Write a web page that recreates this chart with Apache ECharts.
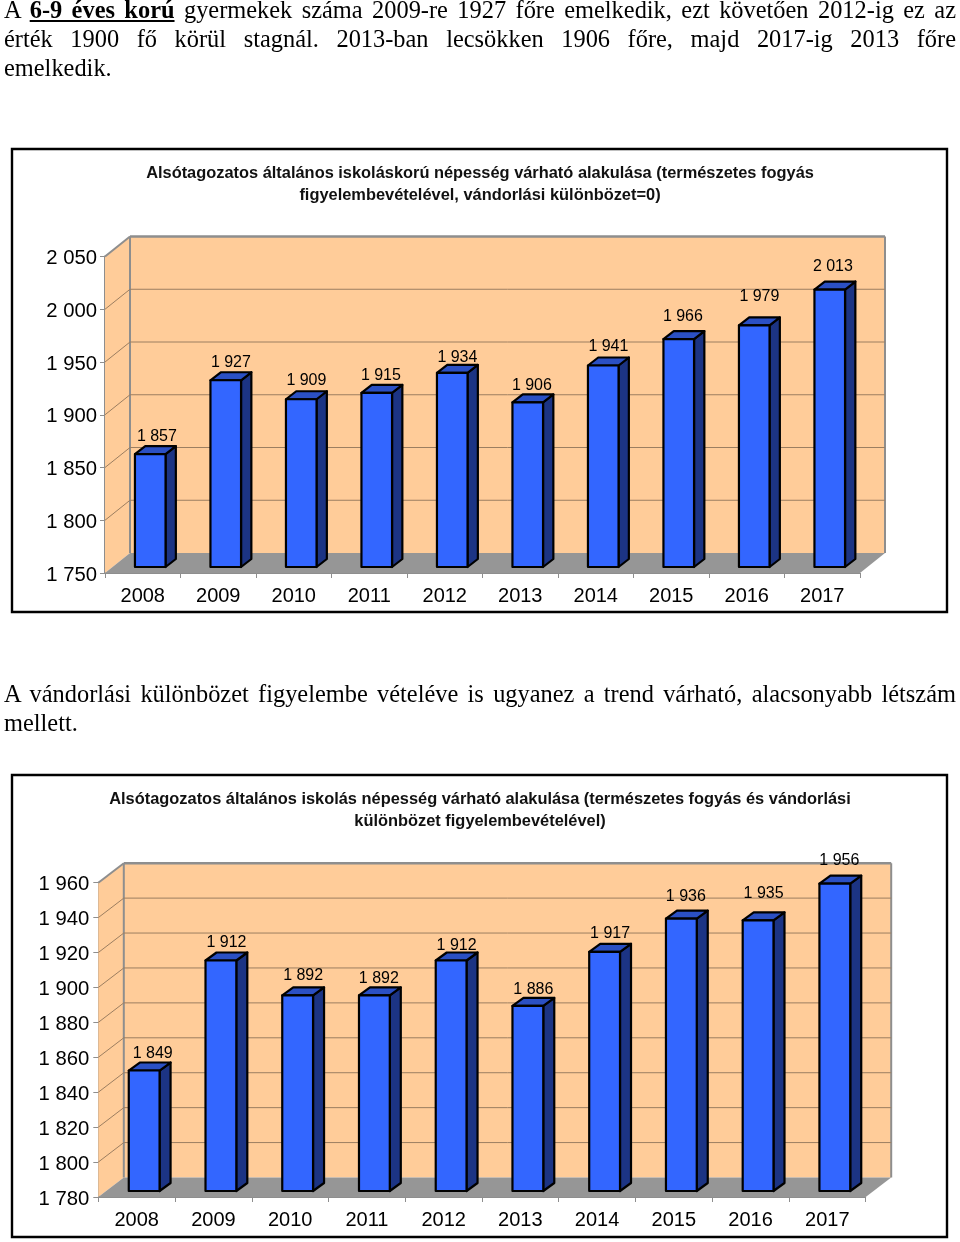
<!DOCTYPE html>
<html lang="hu">
<head>
<meta charset="utf-8">
<title>Népesség</title>
<script src="https://cdn.jsdelivr.net/npm/echarts@6/dist/echarts.min.js"></script>
<style>
html,body{margin:0;padding:0;background:#fff;width:960px;height:1242px;overflow:hidden}
#chart{position:absolute;left:0;top:0;width:960px;height:1242px}
.p{position:absolute;left:4px;width:952px;font:24.4px/29px "Liberation Serif",serif;color:#000;text-align:justify;text-align-last:justify;z-index:2}
</style>
</head>
<body>
<div id="chart"></div>
<div class="p" style="top:-5.5px">A <b><u>6-9 éves korú</u></b> gyermekek száma 2009-re 1927 főre emelkedik, ezt követően 2012-ig ez az<br>érték 1900 fő körül stagnál. 2013-ban lecsökken 1906 főre, majd 2017-ig 2013 főre<br>emelkedik.</div>
<div class="p" style="top:678.5px">A vándorlási különbözet figyelembe vételéve is ugyanez a trend várható, alacsonyabb létszám<br>mellett.</div>
<script>
var years = ['2008','2009','2010','2011','2012','2013','2014','2015','2016','2017'];
var values1 = [1857,1927,1909,1915,1934,1906,1941,1966,1979,2013];
var values2 = [1849,1912,1892,1892,1912,1886,1917,1936,1935,1956];
var ticks1 = [1750,1800,1850,1900,1950,2000,2050];
var ticks2 = [1780,1800,1820,1840,1860,1880,1900,1920,1940,1960];
var title1 = 'Alsótagozatos általános iskoláskorú népesség várható alakulása (természetes fogyás\nfigyelembevételével, vándorlási különbözet=0)';
var title2 = 'Alsótagozatos általános iskolás népesség várható alakulása (természetes fogyás és vándorlási\nkülönbözet figyelembevételével)';

// layout only: label placement relative to each bar's rear top edge
var labelRise1 = [10,10,11,9,7,9,11,15,21,15];
var labelRise2 = [9,10,12,9,7,8,10,14,19,15];
var labelShift1 = [1.5,0,0,-1,0,-1,0,-1,0,-2];
var labelShift2 = [3,0,0,-1,0,0,0,-1,0,-1];

var FONT = '"Liberation Sans",Arial,sans-serif';
function fmt(v){ var s=String(v); return s.slice(0,-3)+' '+s.slice(-3); }
var WALL='#FFCC99', FLOOR='#969696', EDGE='#8E8E8E', GRIDLINE='#9C7E60';

function wallSeries(idx, ticks, geo){
  var min=ticks[0];
  return [{
    type:'custom', coordinateSystem:'cartesian2d', xAxisIndex:idx, yAxisIndex:idx, silent:true, z:1,
    data:[[0,min]],
    renderItem:function(p,api){
      var cs=p.coordSys, L=cs.x, R=cs.x+cs.width, T=cs.y, B=cs.y+cs.height, dx=geo.dx, dy=geo.dy;
      function poly(pts,fill){return {type:'polygon',shape:{points:pts},style:{fill:fill,stroke:null}};}
      function line(a,b,w){return {type:'line',shape:{x1:a[0],y1:a[1],x2:b[0],y2:b[1]},style:{stroke:EDGE,lineWidth:w}};}
      return {type:'group',children:[
        poly([[L,B],[L+dx,B+dy],[L+dx,T+dy],[L,T]],WALL),
        poly([[L+dx,B+dy],[R+dx,B+dy],[R+dx,T+dy],[L+dx,T+dy]],WALL),
        poly([[L,B],[L+dx,B+dy],[R+dx,B+dy],[R,B]],FLOOR),
        line([L+dx,T+dy],[R+dx,T+dy],2.4),
        line([L+dx,T+dy],[L+dx,B+dy],2),
        line([R+dx,T+dy],[R+dx,B+dy],2),
        line([L,T],[L+dx,T+dy],2)
      ]};
    }
  },{
    type:'custom', coordinateSystem:'cartesian2d', xAxisIndex:idx, yAxisIndex:idx, silent:true, z:2,
    data:ticks.slice(1,-1).map(function(t){return [0,t];}),
    renderItem:function(p,api){
      var cs=p.coordSys, y=api.coord([0,api.value(1)])[1], L=cs.x, R=cs.x+cs.width;
      var st={stroke:GRIDLINE,lineWidth:1};
      return {type:'group',children:[
        {type:'line',shape:{x1:L,y1:y,x2:L+geo.dx,y2:y+geo.dy},style:st},
        {type:'line',shape:{x1:L+geo.dx,y1:y+geo.dy,x2:R+geo.dx,y2:y+geo.dy},style:st}
      ]};
    }
  }];
}

function barSeries(idx, values, min, rise, shift, geo){
  return {
    type:'custom', coordinateSystem:'cartesian2d', xAxisIndex:idx, yAxisIndex:idx, silent:true, z:3,
    data:values.map(function(v,i){return [i,v];}),
    renderItem:function(p,api){
      var i=api.value(0), v=api.value(1);
      var top=api.coord([i,v]), base=api.coord([i,min]);
      var x0=top[0]+geo.insetX-geo.barW/2, x1=x0+geo.barW;
      var y0=top[1]+geo.insetY, y1=base[1]+geo.insetY;
      var ddx=geo.barDx, ddy=geo.barDy;
      var st=function(f){return {fill:f,stroke:'#000',lineWidth:2.2,lineJoin:'round'};};
      return {type:'group',children:[
        {type:'polygon',shape:{points:[[x1,y0],[x1+ddx,y0+ddy],[x1+ddx,y1+ddy],[x1,y1]]},style:st('#1C3484')},
        {type:'polygon',shape:{points:[[x0,y0],[x0+ddx,y0+ddy],[x1+ddx,y0+ddy],[x1,y0]]},style:st('#2B50C4')},
        {type:'rect',shape:{x:x0,y:y0,width:geo.barW,height:y1-y0},style:st('#3366FF')},
        {type:'text',z2:10,style:{text:fmt(v),x:(x0+x1+ddx)/2+shift[i],y:y0+ddy-rise[i],align:'center',verticalAlign:'middle',fill:'#000',font:'16px '+FONT}}
      ]};
    }
  };
}

var geo1={dx:25,dy:-20,barW:30.6,barDx:10.3,barDy:-8,insetX:7.5,insetY:-6};
var geo2={dx:25.5,dy:-19.5,barW:30.8,barDx:11,barDy:-8,insetX:7.5,insetY:-6};

function xAxis(idx){
  return {gridIndex:idx,type:'category',data:years,boundaryGap:true,
    axisLine:{onZero:false,lineStyle:{color:EDGE,width:1}},
    axisTick:{show:true,length:5,lineStyle:{color:EDGE}},
    axisLabel:{fontFamily:FONT,fontSize:20,color:'#000',margin:13,interval:0},
    splitLine:{show:false}};
}
function yAxis(idx,ticks,step,margin){
  return {gridIndex:idx,type:'value',min:ticks[0],max:ticks[ticks.length-1],interval:step,
    axisLine:{show:true,lineStyle:{color:EDGE,width:2}},
    axisTick:{show:true,length:5,lineStyle:{color:EDGE}},
    axisLabel:{margin:margin,formatter:function(v){return '{n|'+fmt(v)+'}';},
      rich:{n:{fontFamily:FONT,fontSize:20.3,color:'#000',padding:[4,0,0,0]}}},
    splitLine:{show:false}};
}

var chart=echarts.init(document.getElementById('chart'),null,{renderer:'canvas',width:960,height:1242});
chart.setOption({
  animation:false,
  backgroundColor:'#fff',
  title:[
    {text:title1,left:475,top:157.5,textAlign:'center',textStyle:{fontFamily:FONT,fontSize:16.4,fontWeight:'bold',color:'#111',lineHeight:22}},
    {text:title2,left:475,top:783.5,textAlign:'center',textStyle:{fontFamily:FONT,fontSize:16.4,fontWeight:'bold',color:'#111',lineHeight:22}}
  ],
  graphic:[
    {type:'rect',silent:true,z:0,shape:{x:12,y:149,width:935,height:463},style:{fill:'none',stroke:'#000',lineWidth:2.4}},
    {type:'rect',silent:true,z:0,shape:{x:12,y:775,width:935,height:462},style:{fill:'none',stroke:'#000',lineWidth:2.4}}
  ],
  grid:[
    {left:105,top:256.5,width:755,height:316.5},
    {left:98.3,top:882.7,width:767.4,height:314.3}
  ],
  xAxis:[xAxis(0),xAxis(1)],
  yAxis:[yAxis(0,ticks1,50,8),yAxis(1,ticks2,20,9)],
  series:[].concat(
    wallSeries(0,ticks1,geo1),
    wallSeries(1,ticks2,geo2),
    [barSeries(0,values1,ticks1[0],labelRise1,labelShift1,geo1),
     barSeries(1,values2,ticks2[0],labelRise2,labelShift2,geo2)]
  )
});
</script>
</body>
</html>
